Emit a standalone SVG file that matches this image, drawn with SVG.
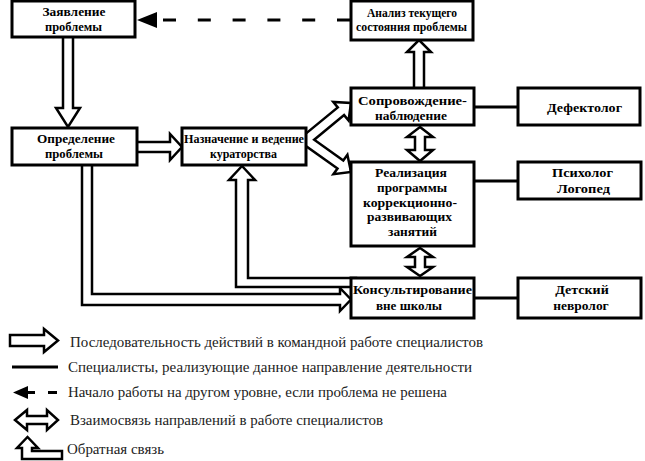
<svg xmlns="http://www.w3.org/2000/svg" width="645" height="461" viewBox="0 0 645 461">
<defs>
<style>
.box{fill:#fff;stroke:#000;stroke-width:3}
.ha{fill:#fff;stroke:#000;stroke-width:2.5;stroke-linejoin:miter}
.ln{stroke:#000;stroke-width:3;fill:none}
.bt{font-family:"Liberation Serif","Times New Roman",serif;font-weight:bold;font-size:13.5px;text-anchor:middle;fill:#000}
.lt{font-family:"Liberation Serif","Times New Roman",serif;font-size:14.5px;fill:#222}
</style>
</defs>
<rect width="645" height="461" fill="#fff"/>
<g id="connectors">
<polygon class="ha" points="63,30 73,30 73,108 80,108 68,127 56,108 63,108"/>
<polygon class="ha" points="130,142 170,142 170,134 182,147 170,160 170,152 130,152"/>
<polygon class="ha" points="302.8,136.1 337.8,107.4 333.3,102 351,103 348.6,120.5 344.1,115.1 314.2,139.7 343.3,160.4 347.4,154.7 351,172 333.4,174.2 337.5,168.5 303.1,144.1"/>
<polygon class="ha" points="414,95 414,52 407,52 419,40 431,52 424,52 424,95"/>
<polygon class="ha" points="420,127 433,137 425,137 425,150 433,150 420,161 407,150 415,150 415,137 407,137"/>
<polygon class="ha" points="420,248 433,257 425,257 425,267 433,267 420,276 407,267 415,267 415,257 407,257"/>
<polygon class="ha" points="82,158 82,305 340,305 340,311 351,299.5 340,288 340,294 92,294 92,158"/>
<polygon class="ha" points="356,287 236,287 236,180 229,180 242,166 255,180 248,180 248,278 356,278"/>
<line class="ln" x1="163" y1="20" x2="350" y2="20" stroke-dasharray="13 21.8"/>
<polygon points="137,20 157,12 157,28" fill="#000"/>
<line class="ln" x1="474" y1="107" x2="518" y2="107"/>
<line class="ln" x1="474" y1="181" x2="518" y2="181"/>
<line class="ln" x1="474" y1="298" x2="518" y2="298"/>
</g>
<g id="n1"><rect class="box" x="12" y="1" width="123" height="36"/><text class="bt" x="74" y="16" textLength="63" lengthAdjust="spacingAndGlyphs">Заявление</text><text class="bt" x="73.5" y="31" textLength="57" lengthAdjust="spacingAndGlyphs">проблемы</text></g>
<g id="n2"><rect class="box" x="351" y="1" width="122" height="39"/><text class="bt" x="412" y="17" textLength="90" lengthAdjust="spacingAndGlyphs">Анализ текущего</text><text class="bt" x="411.5" y="31" textLength="111" lengthAdjust="spacingAndGlyphs">состояния проблемы</text></g>
<g id="n3"><rect class="box" x="12" y="128" width="125" height="37"/><text class="bt" x="76" y="143" textLength="78" lengthAdjust="spacingAndGlyphs">Определение</text><text class="bt" x="74" y="158" textLength="58" lengthAdjust="spacingAndGlyphs">проблемы</text></g>
<g id="n4"><rect class="box" x="182" y="128" width="124" height="37"/><text class="bt" x="244" y="143" textLength="120" lengthAdjust="spacingAndGlyphs">Назначение и ведение</text><text class="bt" x="243.5" y="158" textLength="67" lengthAdjust="spacingAndGlyphs">кураторства</text></g>
<g id="n5"><rect class="box" x="351" y="88" width="123" height="37"/><text class="bt" x="412.5" y="105" textLength="109" lengthAdjust="spacingAndGlyphs">Сопровождение-</text><text class="bt" x="411" y="120" textLength="72" lengthAdjust="spacingAndGlyphs">наблюдение</text></g>
<g id="n6"><rect class="box" x="518" y="88" width="122" height="37"/><text class="bt" x="584.5" y="112" textLength="75" lengthAdjust="spacingAndGlyphs">Дефектолог</text></g>
<g id="n7"><rect class="box" x="351" y="162" width="123" height="84"/><text class="bt" x="411" y="177" textLength="72" lengthAdjust="spacingAndGlyphs">Реализация</text><text class="bt" x="412" y="192" textLength="70" lengthAdjust="spacingAndGlyphs">программы</text><text class="bt" x="410" y="206.5" textLength="94" lengthAdjust="spacingAndGlyphs">коррекционно-</text><text class="bt" x="409.5" y="221" textLength="85" lengthAdjust="spacingAndGlyphs">развивающих</text><text class="bt" x="412.5" y="236" textLength="49" lengthAdjust="spacingAndGlyphs">занятий</text></g>
<g id="n8"><rect class="box" x="518" y="162" width="123" height="37"/><text class="bt" x="582.5" y="177" textLength="61" lengthAdjust="spacingAndGlyphs">Психолог</text><text class="bt" x="583.5" y="192.5" textLength="53" lengthAdjust="spacingAndGlyphs">Логопед</text></g>
<g id="n9"><rect class="box" x="351" y="278" width="123" height="40"/><text class="bt" x="412.5" y="294" textLength="119" lengthAdjust="spacingAndGlyphs">Консультирование</text><text class="bt" x="409" y="310" textLength="66" lengthAdjust="spacingAndGlyphs">вне школы</text></g>
<g id="n10"><rect class="box" x="518" y="278" width="123" height="40"/><text class="bt" x="582" y="294" textLength="53.5" lengthAdjust="spacingAndGlyphs">Детский</text><text class="bt" x="581" y="310" textLength="55.5" lengthAdjust="spacingAndGlyphs">невролог</text></g>
<g id="legend">
<polygon class="ha" points="10,335 44,335 44,329 58,340.5 44,352 44,346 10,346"/>
<text class="lt" x="70" y="347" textLength="413" lengthAdjust="spacingAndGlyphs">Последовательность действий в командной работе специалистов</text>
<line class="ln" x1="12" y1="367" x2="58" y2="367"/>
<text class="lt" x="68" y="372" textLength="404" lengthAdjust="spacingAndGlyphs">Специалисты, реализующие данное направление деятельности</text>
<polygon points="13,392.5 28,386 28,399" fill="#000"/>
<line class="ln" x1="27" y1="392.5" x2="35" y2="392.5"/>
<line class="ln" x1="48" y1="392.5" x2="57" y2="392.5"/>
<text class="lt" x="68" y="397" textLength="379" lengthAdjust="spacingAndGlyphs">Начало работы на другом уровне, если проблема не решена</text>
<polygon class="ha" points="15,420 27,410 27,416 47,416 47,410 58,420 47,430 47,424 27,424 27,430"/>
<text class="lt" x="70" y="425" textLength="313" lengthAdjust="spacingAndGlyphs">Взаимосвязь направлений в работе специалистов</text>
<polygon class="ha" points="22,448 17,448 27.5,437 38,448 32,448 32,451 62,451 62,459 22,459"/>
<text class="lt" x="67" y="454" textLength="97" lengthAdjust="spacingAndGlyphs">Обратная связь</text>
</g>
</svg>
